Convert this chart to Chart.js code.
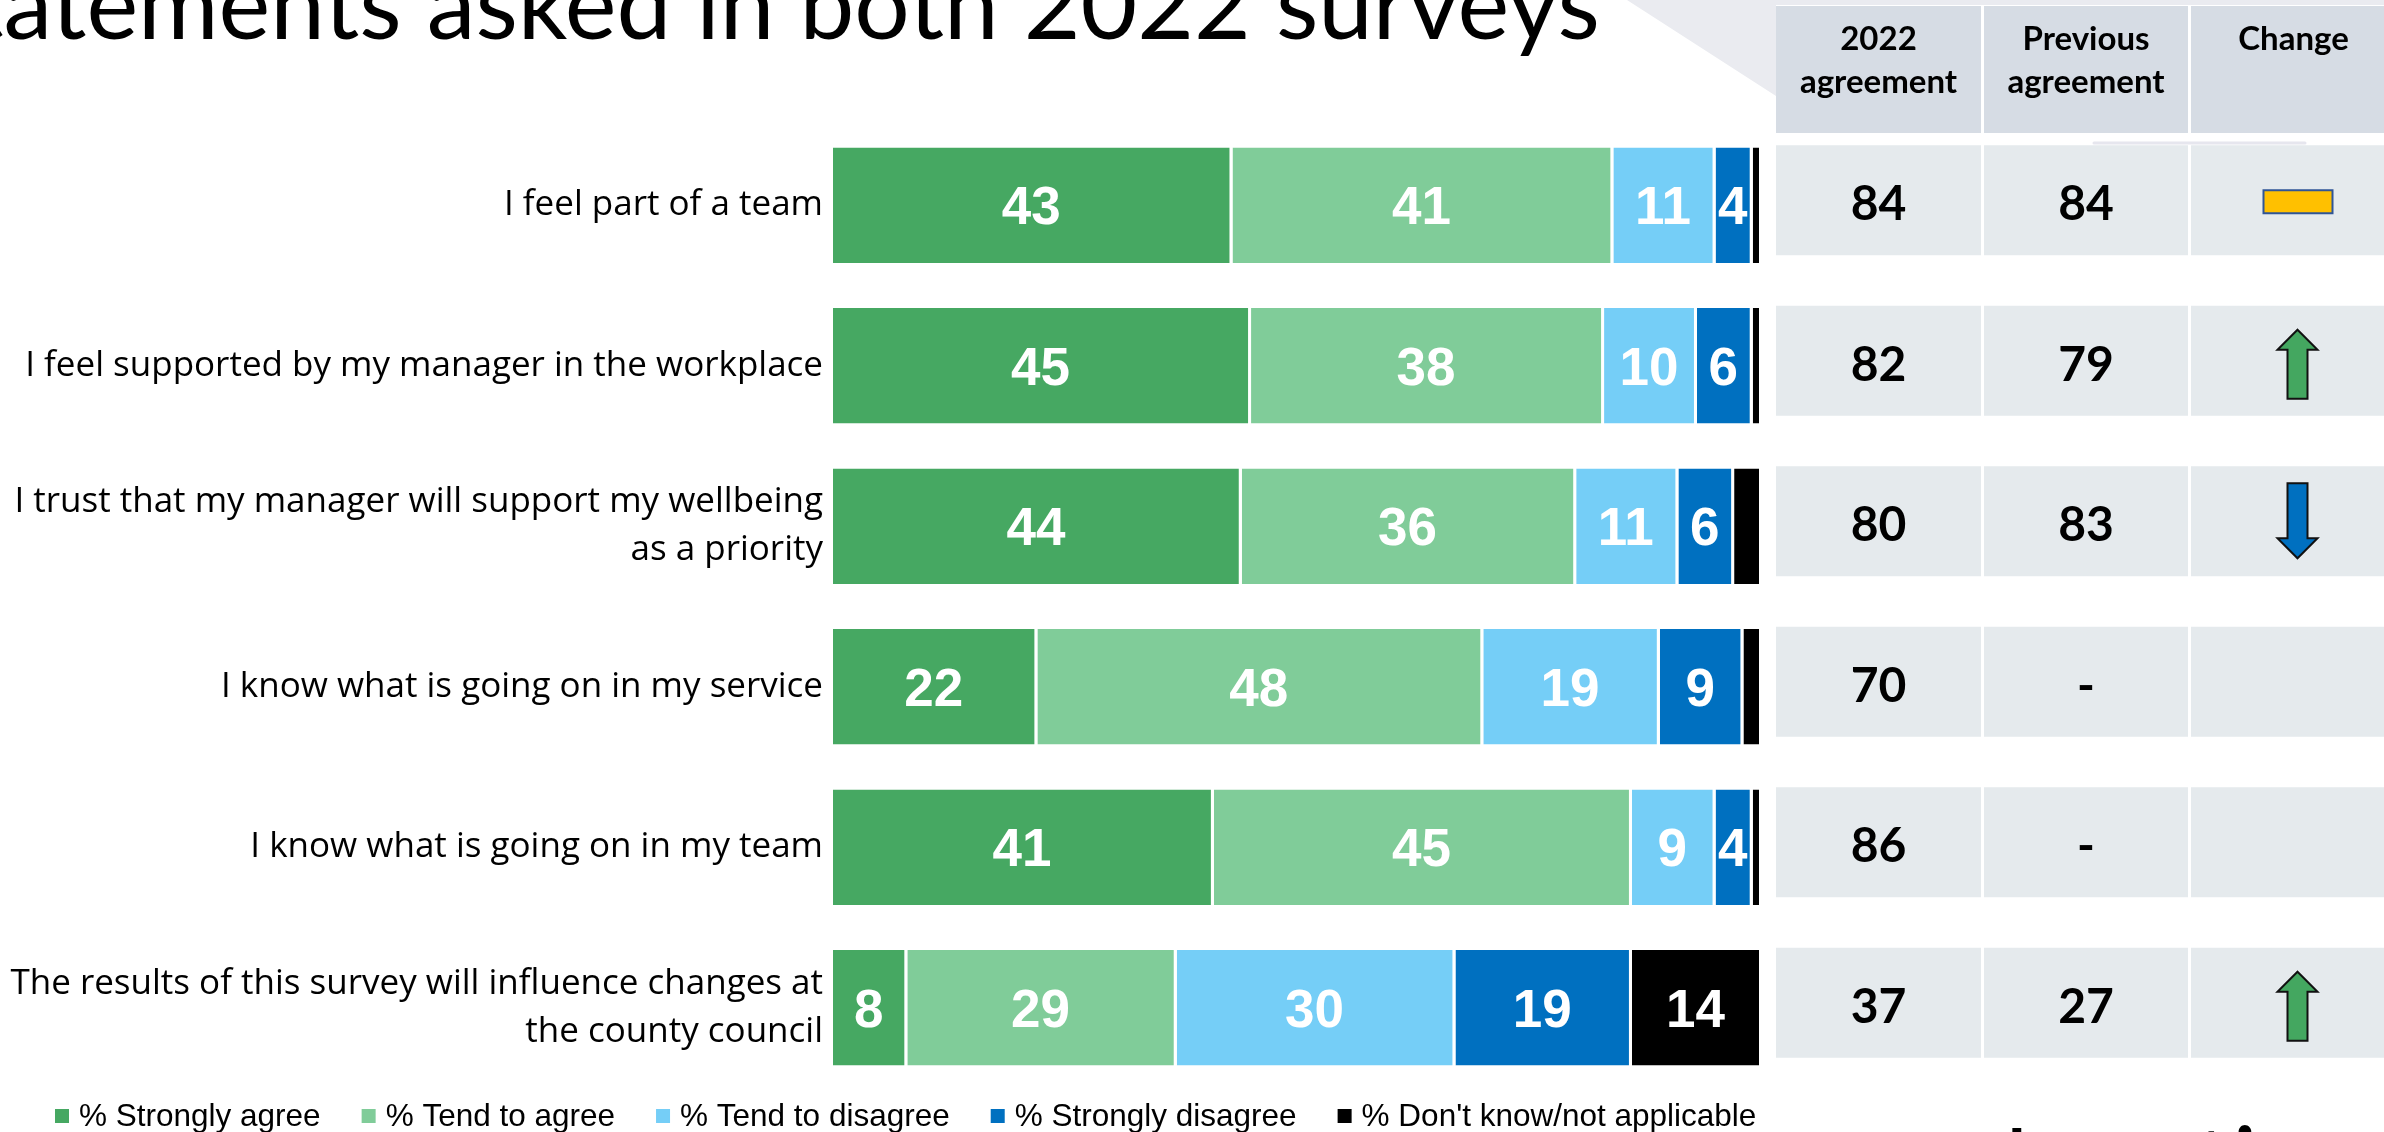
<!DOCTYPE html>
<html>
<head>
<meta charset="utf-8">
<script src="https://cdn.jsdelivr.net/npm/chart.js@4.4.1/dist/chart.umd.min.js"></script>
<style>
  html, body { margin: 0; padding: 0; background: #ffffff; overflow: hidden; }
  #wrap { position: relative; width: 2384px; height: 1132px; }
  canvas { display: block; }
</style>
</head>
<body>
<div id="wrap"><canvas id="c" width="2384" height="1132"></canvas></div>
<script>
// Survey statements (categories)
const statements = [
  'I feel part of a team',
  'I feel supported by my manager in the workplace',
  ['I trust that my manager will support my wellbeing', 'as a priority'],
  'I know what is going on in my service',
  'I know what is going on in my team',
  ['The results of this survey will influence changes at', 'the county council']
];

// Response series (% of respondents)
const seriesNames = ['% Strongly agree', '% Tend to agree', '% Tend to disagree', '% Strongly disagree', "% Don't know/not applicable"];
const stronglyAgree    = [43, 45, 44, 22, 41, 8];
const tendToAgree      = [41, 38, 36, 48, 45, 29];
const tendToDisagree   = [11, 10, 11, 19, 9, 30];
const stronglyDisagree = [4, 6, 6, 9, 4, 19];
const dontKnow         = [1, 1, 3, 2, 1, 14];

// Side table: overall agreement now and in the previous survey (null = not asked)
const agreement2022     = [84, 82, 80, 70, 86, 37];
const agreementPrevious = [84, 79, 83, null, null, 27];
const tableHeaders = [['2022', 'agreement'], ['Previous', 'agreement'], ['Change']];

const titleText = 'Statements asked in both 2022 surveys';

const seriesColors = ['#46A862', '#80CC99', '#75CEF7', '#0070C0', '#000000'];
const seriesValues = [stronglyAgree, tendToAgree, tendToDisagree, stronglyDisagree, dontKnow];

const TABLE_COLS = [[1776, 205], [1984, 204], [2191, 205]];

function drawArrow(ctx, cx, cy, dir, fill) {
  ctx.beginPath();
  if (dir > 0) {
    const tip = cy - 31, head = cy - 11, bottom = cy + 38;
    ctx.moveTo(cx, tip);
    ctx.lineTo(cx + 20, head);
    ctx.lineTo(cx + 10, head);
    ctx.lineTo(cx + 10, bottom);
    ctx.lineTo(cx - 10, bottom);
    ctx.lineTo(cx - 10, head);
    ctx.lineTo(cx - 20, head);
  } else {
    const top = cy - 38, head = cy + 17, tip = cy + 37;
    ctx.moveTo(cx - 10, top);
    ctx.lineTo(cx + 10, top);
    ctx.lineTo(cx + 10, head);
    ctx.lineTo(cx + 20, head);
    ctx.lineTo(cx, tip);
    ctx.lineTo(cx - 20, head);
    ctx.lineTo(cx - 10, head);
  }
  ctx.closePath();
  ctx.fillStyle = fill;
  ctx.fill();
  ctx.lineWidth = 2;
  ctx.strokeStyle = '#111111';
  ctx.stroke();
}

const slideDecor = {
  id: 'slideDecor',
  beforeDraw(chart) {
    const ctx = chart.ctx;
    ctx.save();
    // pale background wedge behind the end of the heading
    ctx.fillStyle = '#EAEBF0';
    ctx.beginPath();
    ctx.moveTo(1627, 0);
    ctx.lineTo(2384, 0);
    ctx.lineTo(2384, 5);
    ctx.lineTo(1776, 5);
    ctx.lineTo(1776, 96);
    ctx.closePath();
    ctx.fill();

    // heading, partly running off the left edge
    let size = 90;
    ctx.font = '400 ' + size + 'px Lato';
    const w = ctx.measureText('atements asked in both 2022 surveys').width;
    size = size * 1597 / w;
    ctx.font = '400 ' + size.toFixed(1) + 'px Lato';
    ctx.fillStyle = '#000000';
    ctx.textAlign = 'right';
    ctx.textBaseline = 'alphabetic';
    ctx.fillText(titleText, 1600, 39);

    // next heading peeking in at the bottom right
    ctx.font = '400 100px Lato';
    ctx.textAlign = 'left';
    const asc = ctx.measureText('l').actualBoundingBoxAscent;
    ctx.fillText('l', 2005, 1128 + asc);
    ctx.fillText('ti', 2195, 1136 + asc * 0.85);
    ctx.restore();
  },
  afterDatasetsDraw(chart) {
    const ctx = chart.ctx;
    ctx.save();
    // value labels inside the segments
    ctx.font = 'bold 53px "Liberation Sans", Arial, sans-serif';
    ctx.fillStyle = '#ffffff';
    ctx.textAlign = 'center';
    ctx.textBaseline = 'alphabetic';
    chart.data.datasets.forEach((ds, di) => {
      const meta = chart.getDatasetMeta(di);
      meta.data.forEach((el, i) => {
        const v = ds.data[i];
        if (v < 4) return;
        const p = el.getCenterPoint();
        ctx.fillText(String(v), p.x - 1.5, p.y + 19);
      });
    });
    ctx.restore();
  },
  afterDraw(chart) {
    const ctx = chart.ctx;
    const yScale = chart.scales.y;
    ctx.save();

    // table header
    ctx.fillStyle = '#D6DCE4';
    TABLE_COLS.forEach(([x, w]) => ctx.fillRect(x, 6, w, 127));
    ctx.fillStyle = '#000000';
    ctx.font = 'bold 33px Lato';
    ctx.textAlign = 'center';
    ctx.textBaseline = 'alphabetic';
    tableHeaders.forEach((lines, c) => {
      const [x, w] = TABLE_COLS[c];
      lines.forEach((t, li) => ctx.fillText(t, x + w / 2, 50 + li * 43));
    });

    // faint rule under header
    ctx.strokeStyle = '#E6E6EE';
    ctx.lineWidth = 3;
    ctx.lineCap = 'round';
    ctx.beginPath();
    ctx.moveTo(2094, 143);
    ctx.lineTo(2305, 143);
    ctx.stroke();

    // table body
    statements.forEach((s, i) => {
      const cy = yScale.getPixelForValue(i) - 5;
      ctx.fillStyle = '#E5EAED';
      TABLE_COLS.forEach(([x, w]) => ctx.fillRect(x, cy - 55, w, 110));
      ctx.fillStyle = '#000000';
      ctx.font = 'bold 48px Lato';
      ctx.textAlign = 'center';
      const [x0, w0] = TABLE_COLS[0];
      const [x1, w1] = TABLE_COLS[1];
      const [x2, w2] = TABLE_COLS[2];
      ctx.fillText(String(agreement2022[i]), x0 + w0 / 2, cy + 20);
      const prev = agreementPrevious[i];
      ctx.fillText(prev === null ? '-' : String(prev), x1 + w1 / 2, cy + 20);
      if (prev === null) return;
      const cx = x2 + w2 / 2 + 4;
      const diff = agreement2022[i] - prev;
      if (diff === 0) {
        ctx.fillStyle = '#FFC000';
        ctx.fillRect(cx - 34, cy - 10, 69, 23);
        ctx.lineWidth = 2;
        ctx.strokeStyle = '#2F5597';
        ctx.strokeRect(cx - 34, cy - 10, 69, 23);
      } else if (diff > 0) {
        drawArrow(ctx, cx, cy, 1, '#44A760');
      } else {
        drawArrow(ctx, cx, cy, -1, '#0070C0');
      }
    });

    // legend
    ctx.font = '31.5px "Liberation Sans", Arial, sans-serif';
    ctx.textAlign = 'left';
    ctx.textBaseline = 'alphabetic';
    let lx = 55;
    chart.data.datasets.forEach((ds) => {
      ctx.fillStyle = ds.backgroundColor;
      ctx.fillRect(lx, 1109, 14, 14);
      ctx.fillStyle = '#000000';
      ctx.fillText(ds.label, lx + 24, 1126);
      lx += 24 + ctx.measureText(ds.label).width + 41;
    });
    ctx.restore();
  }
};

new Chart(document.getElementById('c'), {
  type: 'bar',
  data: {
    labels: statements,
    datasets: seriesNames.map((name, i) => ({
      label: name,
      data: seriesValues[i],
      backgroundColor: seriesColors[i],
      borderColor: '#ffffff',
      borderWidth: { top: 0, bottom: 0, left: 0, right: 3 },
      borderSkipped: false,
      barPercentage: 0.72,
      categoryPercentage: 1
    }))
  },
  options: {
    indexAxis: 'y',
    responsive: false,
    animation: false,
    events: [],
    layout: { padding: { left: 0, right: 622, top: 125, bottom: 44 } },
    scales: {
      x: { stacked: true, min: 0, max: 100, display: false },
      y: {
        stacked: true,
        grid: { display: false, drawTicks: false },
        border: { display: false },
        ticks: {
          color: '#000000',
          autoSkip: false,
          padding: 10,
          font: { family: '"Open Sans"', size: 35, lineHeight: 1.36 }
        },
        afterFit(scale) { scale.width = 833; }
      }
    },
    plugins: {
      legend: { display: false },
      tooltip: { enabled: false }
    }
  },
  plugins: [slideDecor]
});
</script>
</body>
</html>
